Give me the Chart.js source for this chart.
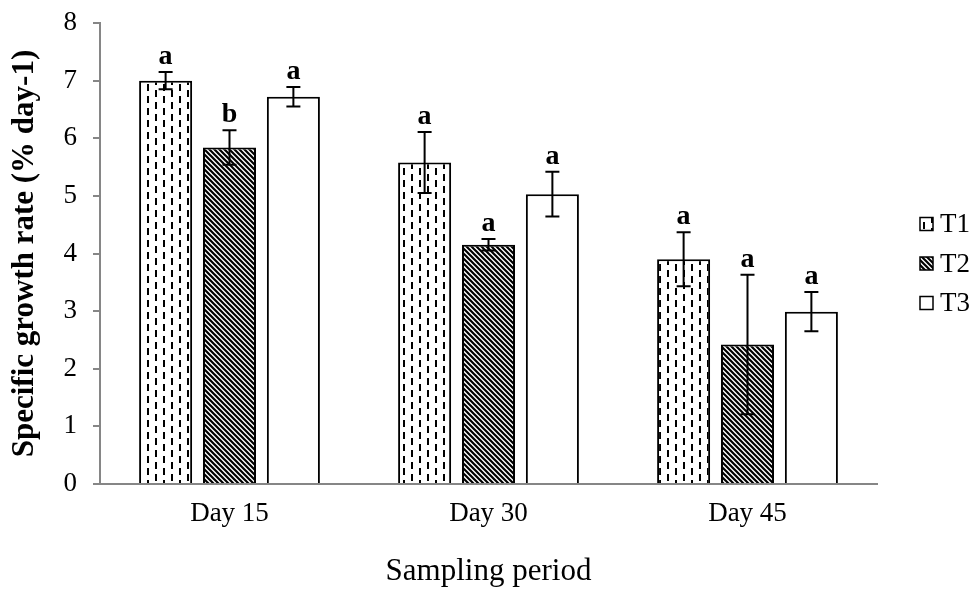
<!DOCTYPE html>
<html>
<head>
<meta charset="utf-8">
<script src="https://cdn.jsdelivr.net/npm/chart.js@4"></script>
<style>
  html, body { margin: 0; padding: 0; background: #fff; }
  #wrap { width: 974px; height: 590px; }
</style>
</head>
<body>
<div id="wrap"><canvas id="growth-chart" width="974" height="590"></canvas></div>
<script>
// values
const categories = ['Day 15', 'Day 30', 'Day 45'];
const seriesNames = ['T1', 'T2', 'T3'];
const t1Values = [7.00, 5.58, 3.90];
const t2Values = [5.84, 4.15, 2.42];
const t3Values = [6.72, 5.03, 2.99];
const t1Errors = [0.15, 0.53, 0.47];
const t2Errors = [0.30, 0.10, 1.21];
const t3Errors = [0.17, 0.39, 0.34];
const t1Letters = ['a', 'a', 'a'];
const t2Letters = ['b', 'a', 'a'];
const t3Letters = ['a', 'a', 'a'];
const yTicks = [0, 1, 2, 3, 4, 5, 6, 7, 8];

const FONT = "'Liberation Serif', 'Times New Roman', serif";
const AXIS_GREY = '#868686';

function dashPattern() {
    const c = document.createElement('canvas');
    c.width = 16; c.height = 12;
    const g = c.getContext('2d');
    g.fillStyle = '#fff';
    g.fillRect(0, 0, 16, 12);
    g.fillStyle = '#000';
    g.fillRect(3, 0, 2, 7);
    g.fillRect(11, 6, 2, 6);
    g.fillRect(11, 0, 2, 1);
    return g.createPattern(c, 'repeat');
}

function hatchPattern() {
    const s = 5;
    const c = document.createElement('canvas');
    c.width = s; c.height = s;
    const g = c.getContext('2d');
    g.fillStyle = '#fff';
    g.fillRect(0, 0, s, s);
    g.strokeStyle = '#000';
    g.lineWidth = 2.2;
    g.beginPath();
    g.moveTo(-1, -1); g.lineTo(s + 1, s + 1);
    g.moveTo(s - 1, -1); g.lineTo(s + 1, 1);
    g.moveTo(-1, s - 1); g.lineTo(1, s + 1);
    g.stroke();
    return g.createPattern(c, 'repeat');
}

const fills = [dashPattern(), hatchPattern(), '#ffffff'];
const errors = [t1Errors, t2Errors, t3Errors];
const letters = [t1Letters, t2Letters, t3Letters];

const errorBarPlugin = {
    id: 'errorBars',
    afterDatasetsDraw(chart) {
        const ctx = chart.ctx;
        const y = chart.scales.y;
        ctx.save();
        ctx.strokeStyle = '#000';
        ctx.lineWidth = 2;
        ctx.fillStyle = '#000';
        ctx.font = 'bold 28px ' + FONT;
        ctx.textAlign = 'center';
        ctx.textBaseline = 'alphabetic';
        chart.data.datasets.forEach((ds, di) => {
            const meta = chart.getDatasetMeta(di);
            meta.data.forEach((bar, i) => {
                const v = ds.data[i];
                const e = errors[di][i];
                const top = y.getPixelForValue(v + e);
                const bot = y.getPixelForValue(v - e);
                ctx.beginPath();
                ctx.moveTo(bar.x, top); ctx.lineTo(bar.x, bot);
                ctx.moveTo(bar.x - 7, top); ctx.lineTo(bar.x + 7, top);
                ctx.moveTo(bar.x - 7, bot); ctx.lineTo(bar.x + 7, bot);
                ctx.stroke();
                ctx.fillText(letters[di][i], bar.x, top - 8);
            });
        });
        ctx.restore();
    }
};

const legendPlugin = {
    id: 'sideLegend',
    afterDraw(chart) {
        const ctx = chart.ctx;
        ctx.save();
        ctx.font = '27px ' + FONT;
        ctx.textBaseline = 'middle';
        ctx.textAlign = 'left';
        seriesNames.forEach((name, i) => {
            const cy = 224 + i * 39.5;
            ctx.fillStyle = fills[i];
            ctx.fillRect(920, cy - 6.5, 13, 13);
            ctx.strokeStyle = '#000';
            ctx.lineWidth = 1.5;
            ctx.strokeRect(920, cy - 6.5, 13, 13);
            ctx.fillStyle = '#000';
            ctx.fillText(name, 940, cy + 1);
        });
        ctx.restore();
    }
};

function createChart() {
    const ctx = document.getElementById('growth-chart').getContext('2d');
    new Chart(ctx, {
        type: 'bar',
        data: {
            labels: categories,
            datasets: [t1Values, t2Values, t3Values].map((vals, i) => ({
                label: seriesNames[i],
                data: vals,
                backgroundColor: fills[i],
                borderColor: '#000',
                borderWidth: 2,
                categoryPercentage: 0.74,
                barPercentage: 0.83
            }))
        },
        options: {
            responsive: false,
            animation: false,
            layout: { padding: { left: 0, right: 97, top: 23, bottom: 0 } },
            plugins: {
                legend: { display: false },
                tooltip: { enabled: false }
            },
            scales: {
                x: {
                    grid: { display: true, drawOnChartArea: false, drawTicks: false },
                    border: { color: AXIS_GREY, width: 2 },
                    ticks: { color: '#000', font: { family: FONT, size: 27 }, padding: 14 },
                    title: {
                        display: true, text: 'Sampling period', color: '#000',
                        font: { family: FONT, size: 31 }, padding: { top: 0, bottom: 0 }
                    },
                    afterFit(scale) { scale.height = 106; }
                },
                y: {
                    min: 0,
                    max: 8,
                    afterBuildTicks(scale) { scale.ticks = yTicks.map(v => ({ value: v })); },
                    grid: { drawOnChartArea: false, drawTicks: true, tickLength: 7, color: AXIS_GREY, lineWidth: 2 },
                    border: { color: AXIS_GREY, width: 2 },
                    ticks: { color: '#000', font: { family: FONT, size: 27 }, padding: 16 },
                    title: {
                        display: true, text: 'Specific growth rate (% day-1)', color: '#000',
                        font: { family: FONT, size: 31, weight: 'bold' }, padding: { top: 6, bottom: 0 }
                    },
                    afterFit(scale) {
                        scale.width = 100;
                        scale.paddingTop = 0;
                        scale.paddingBottom = 0;
                    }
                }
            }
        },
        plugins: [errorBarPlugin, legendPlugin]
    });
}

document.addEventListener('DOMContentLoaded', createChart);
</script>
</body>
</html>
